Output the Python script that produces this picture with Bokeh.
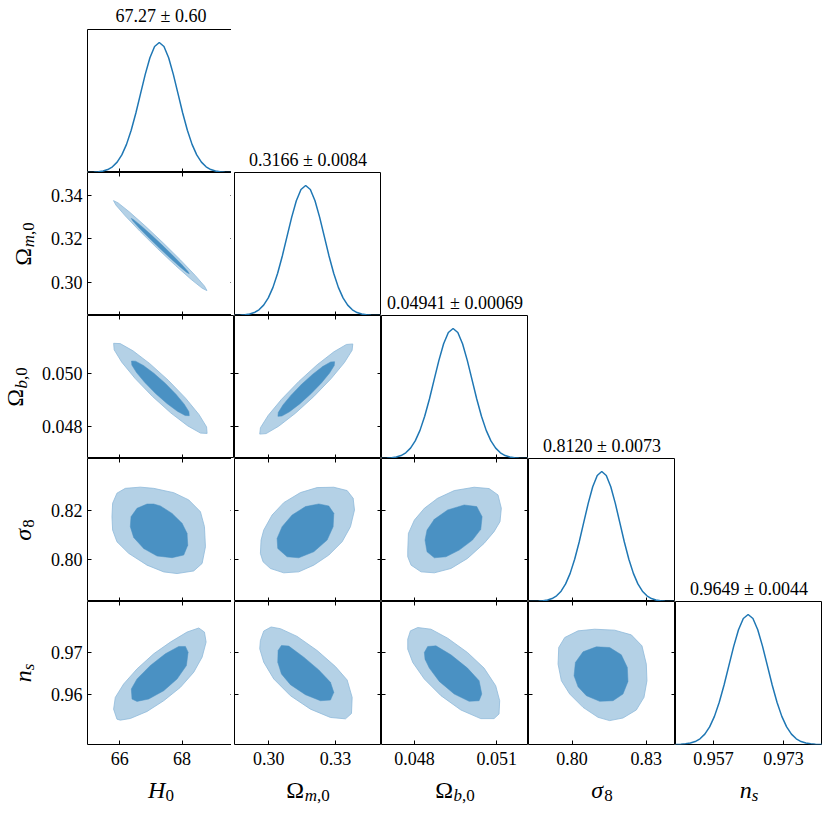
from bokeh.plotting import figure
from bokeh.models import Range1d, LinearAxis, FixedTicker, PrintfTickFormatter, Label, GridBox
from bokeh.embed import file_html
from bokeh.resources import INLINE

# ---------------- data ----------------
MEANS = [67.27, 0.3166, 0.04941, 0.8120, 0.9649]
SIGMAS = [0.60, 0.0084, 0.00069, 0.0073, 0.0044]
TITLE_DECIMALS = [2, 4, 5, 4, 4]

LABEL_MAIN = ["H", "Ω", "Ω", "σ", "n"]
MAIN_ITALIC = [True, False, False, True, True]
LABEL_SUB = [[("0", False)], [("m", True), (",0", False)], [("b", True), (",0", False)],
             [("8", False)], [("s", True)]]

RANGE_LO = [64.97, 0.2846, 0.04680, 0.7824, 0.9483]
RANGE_HI = [69.68, 0.3507, 0.05216, 0.8418, 0.9819]

X_TICKS = [[66, 68], [0.30, 0.33], [0.048, 0.051], [0.80, 0.83], [0.957, 0.973]]
X_TICK_LABELS = [["66", "68"], ["0.30", "0.33"], ["0.048", "0.051"], ["0.80", "0.83"], ["0.957", "0.973"]]
Y_TICKS = [None, [0.30, 0.32, 0.34], [0.048, 0.050], [0.80, 0.82], [0.96, 0.97]]
Y_TICK_LABELS = [None, ["0.30", "0.32", "0.34"], ["0.048", "0.050"], ["0.80", "0.82"], ["0.96", "0.97"]]

# 1D marginal curves (relative height)
H0_X = [64.87, 65.02, 65.17, 65.32, 65.47, 65.62, 65.77, 65.92, 66.07, 66.22, 66.37, 66.52, 66.67,
        66.82, 66.97, 67.12, 67.27, 67.42, 67.57, 67.72, 67.87, 68.02, 68.17, 68.32, 68.47, 68.62,
        68.77, 68.92, 69.07, 69.22, 69.37, 69.52, 69.67]
H0_P = [0.0003, 0.0009, 0.0022, 0.0051, 0.0111, 0.0228, 0.0439, 0.0796, 0.1353, 0.2163, 0.3247,
        0.4578, 0.6065, 0.7548, 0.8825, 0.9692, 1.0, 0.9692, 0.8825, 0.7548, 0.6065, 0.4578, 0.3247,
        0.2163, 0.1353, 0.0796, 0.0439, 0.0228, 0.0111, 0.0051, 0.0022, 0.0009, 0.0003]
OM_X = [0.2830, 0.2851, 0.2872, 0.2893, 0.2914, 0.2935, 0.2956, 0.2977, 0.2998, 0.3019, 0.3040,
        0.3061, 0.3082, 0.3103, 0.3124, 0.3145, 0.3166, 0.3187, 0.3208, 0.3229, 0.3250, 0.3271,
        0.3292, 0.3313, 0.3334, 0.3355, 0.3376, 0.3397, 0.3418, 0.3439, 0.3460, 0.3481, 0.3502]
OM_P = [0.0003, 0.0009, 0.0022, 0.0051, 0.0111, 0.0228, 0.0439, 0.0796, 0.1353, 0.2163, 0.3247,
        0.4578, 0.6065, 0.7548, 0.8825, 0.9692, 1.0, 0.9692, 0.8825, 0.7548, 0.6065, 0.4578, 0.3247,
        0.2163, 0.1353, 0.0796, 0.0439, 0.0228, 0.0111, 0.0051, 0.0022, 0.0009, 0.0003]
OB_X = [0.046650, 0.046823, 0.046995, 0.047168, 0.047340, 0.047513, 0.047685, 0.047858, 0.048030,
        0.048203, 0.048375, 0.048548, 0.048720, 0.048893, 0.049065, 0.049238, 0.049410, 0.049583,
        0.049755, 0.049928, 0.050100, 0.050273, 0.050445, 0.050618, 0.050790, 0.050963, 0.051135,
        0.051308, 0.051480, 0.051653, 0.051825, 0.051998, 0.052170]
OB_P = [0.0003, 0.0009, 0.0022, 0.0051, 0.0111, 0.0228, 0.0439, 0.0796, 0.1353, 0.2163, 0.3247,
        0.4578, 0.6065, 0.7548, 0.8825, 0.9692, 1.0, 0.9692, 0.8825, 0.7548, 0.6065, 0.4578, 0.3247,
        0.2163, 0.1353, 0.0796, 0.0439, 0.0228, 0.0111, 0.0051, 0.0022, 0.0009, 0.0003]
S8_X = [0.78280, 0.78463, 0.78645, 0.78828, 0.79010, 0.79193, 0.79375, 0.79558, 0.79740, 0.79923,
        0.80105, 0.80288, 0.80470, 0.80653, 0.80835, 0.81018, 0.81200, 0.81383, 0.81565, 0.81748,
        0.81930, 0.82113, 0.82295, 0.82478, 0.82660, 0.82843, 0.83025, 0.83208, 0.83390, 0.83573,
        0.83755, 0.83938, 0.84120]
S8_P = [0.0003, 0.0009, 0.0022, 0.0051, 0.0111, 0.0228, 0.0439, 0.0796, 0.1353, 0.2163, 0.3247,
        0.4578, 0.6065, 0.7548, 0.8825, 0.9692, 1.0, 0.9692, 0.8825, 0.7548, 0.6065, 0.4578, 0.3247,
        0.2163, 0.1353, 0.0796, 0.0439, 0.0228, 0.0111, 0.0051, 0.0022, 0.0009, 0.0003]
NS_X = [0.9473, 0.9484, 0.9495, 0.9506, 0.9517, 0.9528, 0.9539, 0.9550, 0.9561, 0.9572, 0.9583,
        0.9594, 0.9605, 0.9616, 0.9627, 0.9638, 0.9649, 0.9660, 0.9671, 0.9682, 0.9693, 0.9704,
        0.9715, 0.9726, 0.9737, 0.9748, 0.9759, 0.9770, 0.9781, 0.9792, 0.9803, 0.9814, 0.9825]
NS_P = [0.0003, 0.0009, 0.0022, 0.0051, 0.0111, 0.0228, 0.0439, 0.0796, 0.1353, 0.2163, 0.3247,
        0.4578, 0.6065, 0.7548, 0.8825, 0.9692, 1.0, 0.9692, 0.8825, 0.7548, 0.6065, 0.4578, 0.3247,
        0.2163, 0.1353, 0.0796, 0.0439, 0.0228, 0.0111, 0.0051, 0.0022, 0.0009, 0.0003]

# 2D contours (95% outer, 68% inner), x = column parameter, y = row parameter
OM_H0_95_X = [68.797, 68.717, 68.421, 67.955, 67.389, 66.809, 66.305, 65.951, 65.803, 65.883, 66.179,
              66.645, 67.211, 67.791, 68.295, 68.649]
OM_H0_95_Y = [0.29610, 0.29820, 0.30314, 0.31018, 0.31825, 0.32612, 0.33256, 0.33664, 0.33770, 0.33560,
              0.33066, 0.32362, 0.31555, 0.30768, 0.30124, 0.29716]
OM_H0_68_X = [68.230, 68.176, 67.989, 67.697, 67.344, 66.985, 66.673, 66.458, 66.370, 66.424, 66.611,
              66.903, 67.256, 67.615, 67.927, 68.142]
OM_H0_68_Y = [0.30390, 0.30513, 0.30812, 0.31242, 0.31737, 0.32222, 0.32622, 0.32879, 0.32950, 0.32827,
              0.32528, 0.32098, 0.31603, 0.31118, 0.30718, 0.30461]

OB_H0_95_X = [68.802, 68.785, 68.542, 68.112, 67.558, 66.966, 66.426, 66.019, 65.808, 65.825, 66.068,
              66.498, 67.052, 67.644, 68.184, 68.591]
OB_H0_95_Y = [0.047740, 0.047984, 0.048449, 0.049062, 0.049732, 0.050356, 0.050837, 0.051106, 0.051118,
              0.050874, 0.050409, 0.049796, 0.049126, 0.048502, 0.048021, 0.047752]
OB_H0_68_X = [68.230, 68.220, 68.069, 67.803, 67.461, 67.095, 66.761, 66.510, 66.380, 66.390, 66.541,
              66.807, 67.149, 67.515, 67.849, 68.100]
OB_H0_68_Y = [0.048404, 0.048554, 0.048837, 0.049210, 0.049617, 0.049996, 0.050287, 0.050448, 0.050454,
              0.050304, 0.050021, 0.049648, 0.049241, 0.048862, 0.048571, 0.048410]

OB_OM_95_X = [0.33779, 0.33748, 0.33403, 0.32798, 0.32022, 0.31196, 0.30445, 0.29882, 0.29595, 0.29626,
              0.29971, 0.30576, 0.31352, 0.32178, 0.32929, 0.33492]
OB_OM_95_Y = [0.051093, 0.050856, 0.050397, 0.049788, 0.049119, 0.048494, 0.048009, 0.047734, 0.047715,
              0.047952, 0.048411, 0.049020, 0.049689, 0.050314, 0.050799, 0.051074]
OB_OM_68_X = [0.32962, 0.32945, 0.32736, 0.32369, 0.31897, 0.31393, 0.30934, 0.30589, 0.30412, 0.30429,
              0.30638, 0.31005, 0.31477, 0.31981, 0.32440, 0.32785]
OB_OM_68_Y = [0.050429, 0.050283, 0.050003, 0.049633, 0.049226, 0.048847, 0.048553, 0.048389, 0.048379,
              0.048525, 0.048805, 0.049175, 0.049582, 0.049961, 0.050255, 0.050419]

S8_H0_95_X = [65.775, 65.914, 66.182, 66.663, 67.091, 67.733, 68.214, 68.588, 68.717, 68.749, 68.642,
              68.374, 67.840, 67.412, 66.877, 66.289, 65.914, 65.775, 65.754]
S8_H0_95_Y = [0.8232, 0.8274, 0.8294, 0.8299, 0.8294, 0.8276, 0.8246, 0.8197, 0.8135, 0.8051, 0.7982,
              0.7951, 0.7940, 0.7947, 0.7975, 0.8024, 0.8072, 0.8121, 0.8176]
S8_H0_68_X = [66.877, 66.556, 66.364, 66.342, 66.449, 66.770, 67.198, 67.679, 68.053, 68.182, 68.160,
              68.000, 67.679, 67.305, 67.091]
S8_H0_68_Y = [0.8229, 0.8211, 0.8176, 0.8135, 0.8090, 0.8044, 0.8013, 0.8006, 0.8017, 0.8058, 0.8107,
              0.8149, 0.8190, 0.8221, 0.8229]

S8_OM_95_X = [0.29625, 0.29655, 0.29775, 0.30150, 0.30675, 0.31425, 0.32175, 0.32925, 0.33525, 0.33795,
              0.33855, 0.33675, 0.33300, 0.32700, 0.32025, 0.31350, 0.30675, 0.30075, 0.29745]
S8_OM_95_Y = [0.80236, 0.80792, 0.81208, 0.81833, 0.82347, 0.82764, 0.82972, 0.82986, 0.82847, 0.82528,
              0.82042, 0.81347, 0.80722, 0.80167, 0.79750, 0.79472, 0.79431, 0.79611, 0.79889]
S8_OM_68_X = [0.30405, 0.30375, 0.30600, 0.31050, 0.31650, 0.32250, 0.32700, 0.32925, 0.32895, 0.32625,
              0.32025, 0.31350, 0.30825]
S8_OM_68_Y = [0.80444, 0.80861, 0.81347, 0.81833, 0.82181, 0.82292, 0.82208, 0.81903, 0.81347, 0.80792,
              0.80306, 0.80056, 0.80097]

S8_OB_95_X = [0.047758, 0.047782, 0.048000, 0.048363, 0.048847, 0.049452, 0.050177, 0.050722, 0.051048,
              0.051169, 0.051121, 0.050903, 0.050540, 0.049935, 0.049331, 0.048726, 0.048242, 0.047879,
              0.047758]
S8_OB_95_Y = [0.80375, 0.81069, 0.81625, 0.82111, 0.82528, 0.82847, 0.82986, 0.82931, 0.82667, 0.82111,
              0.81556, 0.81139, 0.80653, 0.80028, 0.79611, 0.79431, 0.79472, 0.79750, 0.80097]
S8_OB_68_X = [0.048387, 0.048460, 0.048726, 0.049210, 0.049815, 0.050274, 0.050468, 0.050419, 0.050117,
              0.049633, 0.049149, 0.048726, 0.048460]
S8_OB_68_Y = [0.80792, 0.81208, 0.81653, 0.82042, 0.82250, 0.82181, 0.81764, 0.81236, 0.80792, 0.80375,
              0.80097, 0.80056, 0.80306]

NS_H0_95_X = [65.914, 65.807, 65.861, 66.128, 66.556, 67.091, 67.626, 68.160, 68.535, 68.717, 68.770,
              68.642, 68.374, 67.947, 67.412, 66.877, 66.342, 66.021]
NS_H0_95_Y = [0.95425, 0.95661, 0.95937, 0.96252, 0.96606, 0.96961, 0.97236, 0.97472, 0.97567, 0.97472,
              0.97236, 0.96882, 0.96528, 0.96173, 0.95858, 0.95606, 0.95441, 0.95402]
NS_H0_68_X = [66.396, 66.374, 66.556, 66.984, 67.465, 67.893, 68.107, 68.193, 68.139, 67.840, 67.412,
              66.930, 66.556]
NS_H0_68_Y = [0.95898, 0.96134, 0.96370, 0.96685, 0.96961, 0.97134, 0.97134, 0.97000, 0.96685, 0.96370,
              0.96094, 0.95898, 0.95843]

NS_OM_95_X = [0.29625, 0.29775, 0.30105, 0.30525, 0.31275, 0.32175, 0.33000, 0.33525, 0.33750, 0.33720,
              0.33450, 0.32775, 0.31875, 0.30975, 0.30225, 0.29775, 0.29595]
NS_OM_95_Y = [0.97276, 0.97496, 0.97591, 0.97551, 0.97370, 0.97039, 0.96661, 0.96346, 0.95937, 0.95559,
              0.95433, 0.95465, 0.95661, 0.95976, 0.96370, 0.96764, 0.97079]
NS_OM_68_X = [0.30420, 0.30570, 0.30900, 0.31575, 0.32250, 0.32775, 0.32925, 0.32775, 0.32325, 0.31650,
              0.30975, 0.30570, 0.30405]
NS_OM_68_Y = [0.97039, 0.97157, 0.97142, 0.96882, 0.96583, 0.96291, 0.96055, 0.95874, 0.95858, 0.96000,
              0.96236, 0.96488, 0.96764]

NS_OB_95_X = [0.047758, 0.047855, 0.048121, 0.048605, 0.049210, 0.049935, 0.050540, 0.050964, 0.051109,
              0.051085, 0.050903, 0.050419, 0.049694, 0.048968, 0.048363, 0.047940, 0.047758]
NS_OB_95_Y = [0.97305, 0.97500, 0.97578, 0.97539, 0.97328, 0.96992, 0.96625, 0.96211, 0.95859, 0.95547,
              0.95438, 0.95438, 0.95641, 0.95977, 0.96367, 0.96758, 0.97070]
NS_OB_68_X = [0.048363, 0.048484, 0.048786, 0.049331, 0.049935, 0.050359, 0.050456, 0.050359, 0.049996,
              0.049452, 0.048907, 0.048544, 0.048387]
NS_OB_68_Y = [0.96992, 0.97133, 0.97148, 0.96938, 0.96625, 0.96328, 0.96016, 0.95859, 0.95844, 0.96016,
              0.96313, 0.96625, 0.96836]

NS_S8_95_X = [0.79435, 0.79462, 0.79704, 0.80242, 0.80915, 0.81722, 0.82395, 0.82825, 0.83000, 0.83027,
              0.82906, 0.82597, 0.82058, 0.81520, 0.81049, 0.80444, 0.79906, 0.79569]
NS_S8_95_Y = [0.96719, 0.97109, 0.97344, 0.97500, 0.97539, 0.97516, 0.97406, 0.97148, 0.96719, 0.96328,
              0.95938, 0.95641, 0.95453, 0.95391, 0.95469, 0.95703, 0.96016, 0.96328]
NS_S8_68_X = [0.80081, 0.80135, 0.80444, 0.80982, 0.81520, 0.81991, 0.82233, 0.82260, 0.82058, 0.81655,
              0.81117, 0.80579, 0.80242]
NS_S8_68_Y = [0.96445, 0.96758, 0.97008, 0.97125, 0.97109, 0.96938, 0.96641, 0.96313, 0.96016, 0.95859,
              0.95844, 0.95977, 0.96188]

MARGINALS = [(H0_X, H0_P), (OM_X, OM_P), (OB_X, OB_P), (S8_X, S8_P), (NS_X, NS_P)]
CONTOURS = {
    (1, 0): (OM_H0_95_X, OM_H0_95_Y, OM_H0_68_X, OM_H0_68_Y),
    (2, 0): (OB_H0_95_X, OB_H0_95_Y, OB_H0_68_X, OB_H0_68_Y),
    (2, 1): (OB_OM_95_X, OB_OM_95_Y, OB_OM_68_X, OB_OM_68_Y),
    (3, 0): (S8_H0_95_X, S8_H0_95_Y, S8_H0_68_X, S8_H0_68_Y),
    (3, 1): (S8_OM_95_X, S8_OM_95_Y, S8_OM_68_X, S8_OM_68_Y),
    (3, 2): (S8_OB_95_X, S8_OB_95_Y, S8_OB_68_X, S8_OB_68_Y),
    (4, 0): (NS_H0_95_X, NS_H0_95_Y, NS_H0_68_X, NS_H0_68_Y),
    (4, 1): (NS_OM_95_X, NS_OM_95_Y, NS_OM_68_X, NS_OM_68_Y),
    (4, 2): (NS_OB_95_X, NS_OB_95_Y, NS_OB_68_X, NS_OB_68_Y),
    (4, 3): (NS_S8_95_X, NS_S8_95_Y, NS_S8_68_X, NS_S8_68_Y),
}

# ---------------- style / layout ----------------
N = 5
FONT = "Liberation Serif"
LINE_BLUE = "#1f77b4"
LIGHT = "#b4d1e6"
DARK = "#4a91c3"
EDGE = "#8fbadb"
FW, FH = 147, 143          # panel frame size
YLAB_W = 38                # column holding the y-axis names
TICK_B = 46                # room for the y tick labels
TITLE_H = 29               # row holding the first title
XTICK_B = 28               # room for the x tick labels
XLAB_H = 40                # row holding the x-axis names
TICK_FS = 18
MAIN_FS, SUB_FS, SUB_DROP = 24, 17, 4
BASE_CORR = 0.33           # baseline correction, in em
EM = {"H": 0.722, "Ω": 0.768, "σ": 0.55, "n": 0.5, "m": 0.722, "b": 0.5, "s": 0.389, ",": 0.25, ".": 0.25}


def text_w(s, size):
    return sum(EM.get(ch, 0.5) for ch in s) * size


def decimals(s):
    return len(s.split(".")[1]) if "." in s else 0


def add_axis(p, loc, ticks, labels, show):
    ax = LinearAxis(ticker=FixedTicker(ticks=ticks, minor_ticks=[]),
                    formatter=PrintfTickFormatter(format="%%.%df" % decimals(labels[0])),
                    major_tick_in=4, major_tick_out=0, minor_tick_in=0, minor_tick_out=0,
                    axis_line_color=None, major_tick_line_color="black", major_tick_line_width=1)
    if show:
        ax.major_label_text_font = FONT
        ax.major_label_text_font_size = "%dpx" % TICK_FS
        ax.major_label_text_color = "black"
        ax.major_label_standoff = 7 if loc == "below" else 5
    else:
        ax.major_label_text_font_size = "0px"
        ax.major_label_text_color = None
        ax.major_label_standoff = 0
    p.add_layout(ax, loc)


def new_fig(w, h, xr, yr, left=0, bottom=0, outline=True):
    return figure(frame_width=w, frame_height=h, x_range=xr, y_range=yr,
                  x_axis_type=None, y_axis_type=None,
                  output_backend="svg", toolbar_location=None,
                  min_border_left=left, min_border_right=0, min_border_top=0, min_border_bottom=bottom,
                  outline_line_color="black" if outline else None, outline_line_width=1,
                  background_fill_color="white", border_fill_color="white")


def holder(w, h, left=0):
    return new_fig(w, h, Range1d(0, 1), Range1d(0, 1), left=left, outline=False)


def title_text(i):
    d = TITLE_DECIMALS[i]
    return "%.*f ± %.*f" % (d, MEANS[i], d, SIGMAS[i])


def add_title(p, i, y):
    p.add_layout(Label(x=FW / 2, y=y + BASE_CORR * TICK_FS, x_units="screen", y_units="screen",
                       text=title_text(i), text_align="center", text_baseline="alphabetic",
                       text_font=FONT, text_font_size="%dpx" % TICK_FS, text_color="black"))


def add_axis_name(p, i, vertical, anchor_x, anchor_y):
    pieces = [(LABEL_MAIN[i], MAIN_ITALIC[i], MAIN_FS, 0)] + \
             [(t, it, SUB_FS, SUB_DROP) for t, it in LABEL_SUB[i]]
    widths = [text_w(t, s) for t, _, s, _ in pieces]
    pos = -sum(widths) / 2
    for (t, it, s, drop), w in zip(pieces, widths):
        corr = BASE_CORR * s
        common = dict(text=t, text_font=FONT, text_font_size="%dpx" % s,
                      text_font_style="italic" if it else "normal", text_color="black",
                      text_align="left", text_baseline="alphabetic",
                      x_units="screen", y_units="screen", x=anchor_x, y=anchor_y)
        if vertical:
            lab = Label(angle=90, angle_units="deg", x_offset=drop - corr, y_offset=pos, **common)
        else:
            lab = Label(x_offset=pos, y_offset=-drop + corr, **common)
        p.add_layout(lab)
        pos += w


children = []
# grid row 0: title of the first marginal
t0 = holder(FW, TITLE_H, left=TICK_B)
add_title(t0, 0, 8)
children.append((t0, 0, 1))

for r in range(N):
    for c in range(r + 1):
        xr = Range1d(RANGE_LO[c], RANGE_HI[c])
        left = TICK_B if c == 0 else 0
        bottom = XTICK_B if r == N - 1 else 0
        if r == c:
            p = new_fig(FW, FH, xr, Range1d(0, 1.1), left=left, bottom=bottom)
            mx, my = MARGINALS[c]
            p.line(mx, my, line_color=LINE_BLUE, line_width=1.5)
            add_axis(p, "below", X_TICKS[c], X_TICK_LABELS[c], r == N - 1)
        else:
            p = new_fig(FW, FH, xr, Range1d(RANGE_LO[r], RANGE_HI[r]), left=left, bottom=bottom)
            ox, oy, ix, iy = CONTOURS[(r, c)]
            p.patch(ox, oy, fill_color=LIGHT, line_color=EDGE, line_width=0.8)
            p.patch(ix, iy, fill_color=DARK, line_color=DARK, line_width=0.5)
            add_axis(p, "below", X_TICKS[c], X_TICK_LABELS[c], r == N - 1)
            add_axis(p, "above", X_TICKS[c], X_TICK_LABELS[c], False)
            add_axis(p, "left", Y_TICKS[r], Y_TICK_LABELS[r], c == 0)
            add_axis(p, "right", Y_TICKS[r], Y_TICK_LABELS[r], False)
        children.append((p, r + 1, c + 1))

# titles of the other marginals, in the empty cells above them
for i in range(1, N):
    h = holder(FW, FH)
    add_title(h, i, 7)
    children.append((h, i, i + 1))

# y-axis names (left column)
for r in range(1, N):
    h = holder(YLAB_W, FH)
    tl_w = max(text_w(s, TICK_FS) for s in Y_TICK_LABELS[r])
    desc = 3 if any("," in t for t, _ in LABEL_SUB[r]) else 0
    sub_base = min(YLAB_W - 4, YLAB_W + TICK_B - 5 - tl_w - 9 - desc)
    base_x = sub_base - SUB_DROP
    add_axis_name(h, r, True, base_x, FH / 2)
    children.append((h, r + 1, 0))

# x-axis names (bottom row)
for c in range(N):
    h = holder(FW, XLAB_H, left=TICK_B if c == 0 else 0)
    add_axis_name(h, c, False, FW / 2, 15)
    children.append((h, N + 1, c + 1))

grid = GridBox(children=children, spacing=0)

with open("out.html", "w") as f:
    f.write(file_html(grid, INLINE))
